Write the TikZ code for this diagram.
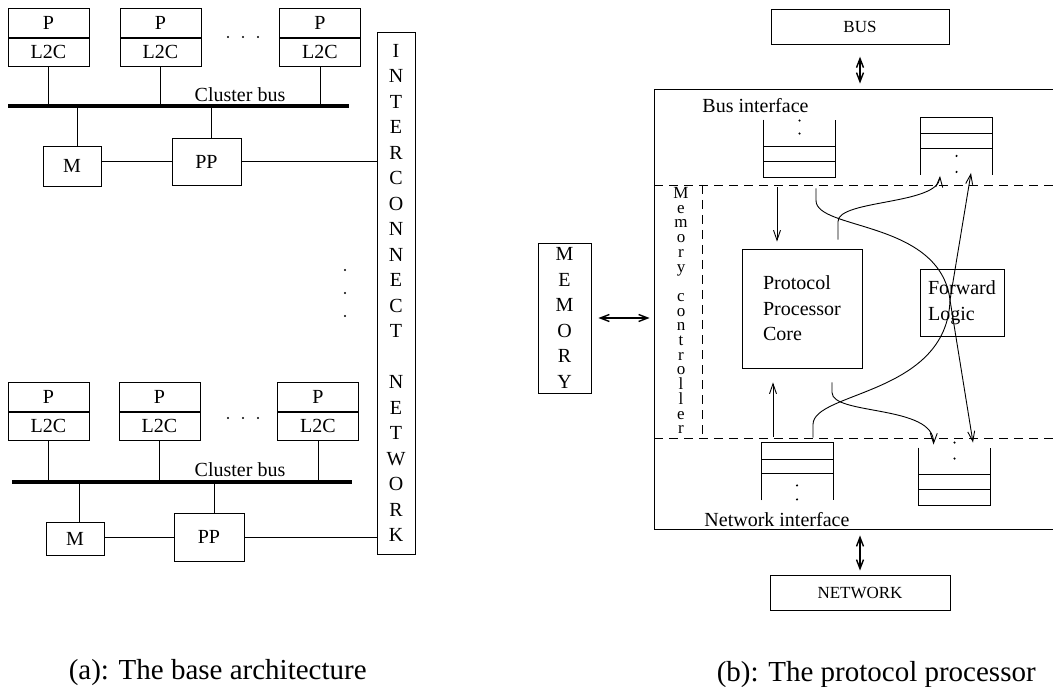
\documentclass[tikz,border=0pt]{standalone}
\usepackage{fontspec}
\setmainfont{Liberation Serif}
\usetikzlibrary{arrows.meta}
\begin{document}
\begin{tikzpicture}[x=1pt,y=-1pt,line width=0.9pt,font=\fontsize{20}{25.5}\selectfont,
  box/.style={draw,inner sep=0pt},
  cell/.style={box,minimum width=81pt,minimum height=28.5pt},
  queue/.style={inner sep=0pt,minimum width=71pt,minimum height=57pt},
  arr/.style={-{Straight Barb[length=10pt,width=7pt]}},
  dblarr/.style={line width=1.4pt,{Straight Barb[length=9pt,width=7pt]}-{Straight Barb[length=9pt,width=7pt]}},
  busline/.style={line width=4pt},
  sep/.style={dash pattern=on 9pt off 6pt},
  dot/.style={radius=1.2pt}]
\clip (0,0) rectangle (1053,687);
% (a) upper cluster
\node[cell] (pa1) at (48.5,23) {P};
\node[cell,anchor=north] (la1) at (pa1.south) {L2C};
\node[cell] (pa2) at (160.5,23) {P};
\node[cell,anchor=north] (la2) at (pa2.south) {L2C};
\node[cell] (pa3) at (320,23) {P};
\node[cell,anchor=north] (la3) at (pa3.south) {L2C};
\fill[dot] (228,37) circle; \fill[dot] (243,37) circle; \fill[dot] (258,37) circle;
\coordinate (busa) at (8,106);
\coordinate (busae) at (349,106);
\draw[busline] (busa) -- (busae);
\node[anchor=base] (lbla) at (240,102) {Cluster bus};
\draw (la1.south) -- (la1.south |- busa);
\draw (la2.south) -- (la2.south |- busa);
\draw (la3.south) -- (la3.south |- busa);
\node[box,minimum width=58pt,minimum height=40pt] (ma) at (72,166) {M};
\node[box,minimum width=69pt,minimum height=47pt] (ppa) at (206.5,161.5) {PP};
\draw ([xshift=5pt]ma.north) -- ([xshift=5pt]ma.north |- busa);
\draw ([xshift=5pt]ppa.north) -- ([xshift=5pt]ppa.north |- busa);
\draw (ppa.west) -- (ppa.west -| ma.east);
% (a) lower cluster
\node[cell] (pb1) at (48.5,397) {P};
\node[cell,anchor=north] (lb1) at (pb1.south) {L2C};
\node[cell] (pb2) at (159.5,397) {P};
\node[cell,anchor=north] (lb2) at (pb2.south) {L2C};
\node[cell] (pb3) at (318,397) {P};
\node[cell,anchor=north] (lb3) at (pb3.south) {L2C};
\fill[dot] (228,418) circle; \fill[dot] (243,418) circle; \fill[dot] (258,418) circle;
\coordinate (busb) at (12,482);
\coordinate (busbe) at (352,482);
\draw[busline] (busb) -- (busbe);
\node[anchor=base] (lblb) at (240,476) {Cluster bus};
\draw (lb1.south) -- (lb1.south |- busb);
\draw (lb2.south) -- (lb2.south |- busb);
\draw (lb3.south) -- (lb3.south |- busb);
\node[box,minimum width=58pt,minimum height=33pt] (mb) at (75,538.5) {M};
\node[box,minimum width=70pt,minimum height=48pt] (ppb) at (209,537) {PP};
\draw ([xshift=4pt]mb.north) -- ([xshift=4pt]mb.north |- busb);
\draw ([xshift=5pt]ppb.north) -- ([xshift=5pt]ppb.north |- busb);
\draw (ppb.west) -- (ppb.west -| mb.east);
\fill[dot] (345,270) circle; \fill[dot] (345,293) circle; \fill[dot] (345,316) circle;
\node[box,minimum width=38pt,minimum height=522pt,align=center] (icn) at (396,293)
  {I\\N\\T\\E\\R\\C\\O\\N\\N\\E\\C\\T\\[25.5pt]N\\E\\T\\W\\O\\R\\K};
\draw (ppa.east) -- (ppa.east -| icn.west);
\draw (ppb.east) -- (ppb.east -| icn.west);
\node[anchor=base west,font=\fontsize{29}{34}\selectfont] (capa) at (65,679) {(a): The base architecture};
% (b) protocol processor
\node[box,minimum width=178pt,minimum height=34.5pt,font=\fontsize{17}{20}\selectfont] (bus) at (860,27) {BUS};
\node[box,minimum width=180pt,minimum height=35pt,font=\fontsize{17}{20}\selectfont] (net) at (860,592.5) {NETWORK};
\node[box,minimum width=440pt,minimum height=440pt] (proc) at (874,309) {};
\node[box,minimum width=53pt,minimum height=150pt,align=center] (mem) at (564.5,318) {M\\E\\M\\O\\R\\Y};
\draw[dblarr,shorten <=12pt,shorten >=5pt] (bus.south) -- (bus.south |- proc.north);
\draw[dblarr,shorten <=6pt,shorten >=4pt] (net.north |- proc.south) -- (net.north);
\draw[dblarr,shorten <=7pt,shorten >=4pt] (mem.east) -- (mem.east -| proc.west);
\coordinate (dtop) at (654,185);
\coordinate (dbot) at (654,438);
\coordinate (mc) at (702,185);
\draw[sep] (dtop) -- (dtop -| proc.east);
\draw[sep] (dbot) -- (dbot -| proc.east);
\draw[sep] (mc) -- (mc |- dbot);
\node[align=center,inner sep=0pt,font=\fontsize{17}{14.7}\selectfont] (mctl) at (681,310.6)
  {M\\e\\m\\o\\r\\y\\[14.7pt]c\\o\\n\\t\\r\\o\\l\\l\\e\\r};
\node[anchor=base west,inner sep=0pt] (lbus) at (702,113) {Bus interface};
\node[anchor=base west,inner sep=0pt] (lnet) at (704,526) {Network interface};
\node[queue] (bq1) at (799.5,148.5) {};
\draw (bq1.north west) -- (bq1.south west) -- (bq1.south east) -- (bq1.north east);
\draw ([yshift=16pt]bq1.south west) -- ([yshift=16pt]bq1.south east);
\draw ([yshift=31pt]bq1.south west) -- ([yshift=31pt]bq1.south east);
\fill[dot] ([yshift=-1pt]bq1.north) circle; \fill[dot] ([yshift=-14pt]bq1.north) circle;
\node[queue] (bq2) at (956.5,146) {};
\draw (bq2.south west) -- (bq2.north west) -- (bq2.north east) -- (bq2.south east);
\draw ([yshift=-16pt]bq2.north west) -- ([yshift=-16pt]bq2.north east);
\draw ([yshift=-31pt]bq2.north west) -- ([yshift=-31pt]bq2.north east);
\fill[dot] ([yshift=19pt]bq2.south) circle; \fill[dot] ([yshift=3pt]bq2.south) circle;
\node[queue] (nq1) at (797,471.5) {};
\draw (nq1.south west) -- (nq1.north west) -- (nq1.north east) -- (nq1.south east);
\draw ([yshift=-17pt]nq1.north west) -- ([yshift=-17pt]nq1.north east);
\draw ([yshift=-31pt]nq1.north west) -- ([yshift=-31pt]nq1.north east);
\fill[dot] ([yshift=15pt]nq1.south) circle; \fill[dot] ([yshift=1pt]nq1.south) circle;
\node[queue] (nq2) at (954.5,476.5) {};
\draw (nq2.north west) -- (nq2.south west) -- (nq2.south east) -- (nq2.north east);
\draw ([yshift=16pt]nq2.south west) -- ([yshift=16pt]nq2.south east);
\draw ([yshift=31pt]nq2.south west) -- ([yshift=31pt]nq2.south east);
\fill[dot] ([yshift=5pt]nq2.north) circle; \fill[dot] ([yshift=-11pt]nq2.north) circle;
\node[box,minimum width=120pt,minimum height=119pt,align=left] (core) at (802,308.5) {Protocol\\Processor\\Core};
\node[box,minimum width=84pt,minimum height=67pt,align=left] (fwd) at (962,302.5) {Forward\\Logic};
\coordinate (fj) at (950,300);
\draw[arr,shorten <=10pt,shorten >=7pt] ([xshift=-22.5pt]bq1.south) -- ([xshift=-22.5pt]bq1.south |- core.north);
\draw[arr,shorten >=14pt] ([xshift=-24pt,yshift=6pt]nq1.north) -- ([xshift=-24pt]nq1.north |- core.south);
\draw ([xshift=16.5pt,yshift=-11pt]bq1.south) -- ++(0,12) .. controls +(0,30) and +(-10,-80) .. (fj);
\draw ([xshift=16pt,yshift=5pt]nq1.north) -- ++(0,-13) .. controls +(0,-33) and +(-3,95) .. (fj);
\draw[arr] (fj) -- ([xshift=14.5pt,yshift=2pt]bq2.south);
\draw[arr] (fj) -- ([xshift=18.5pt,yshift=5pt]nq2.north);
\draw[arr] ([xshift=36pt,yshift=9pt]core.north) -- ++(0,-18) .. controls +(0,-22) and +(-2,29) .. ([xshift=-16.5pt,yshift=-1pt]bq2.south);
\draw[arr] ([xshift=30pt,yshift=-14pt]core.south) -- ++(0,10) .. controls +(0,23) and +(1,-40) .. ([xshift=-21pt,yshift=3pt]nq2.north);
\node[anchor=base west,font=\fontsize{29}{34}\selectfont] (capb) at (713,681) {(b): The protocol processor};
\end{tikzpicture}
\end{document}
